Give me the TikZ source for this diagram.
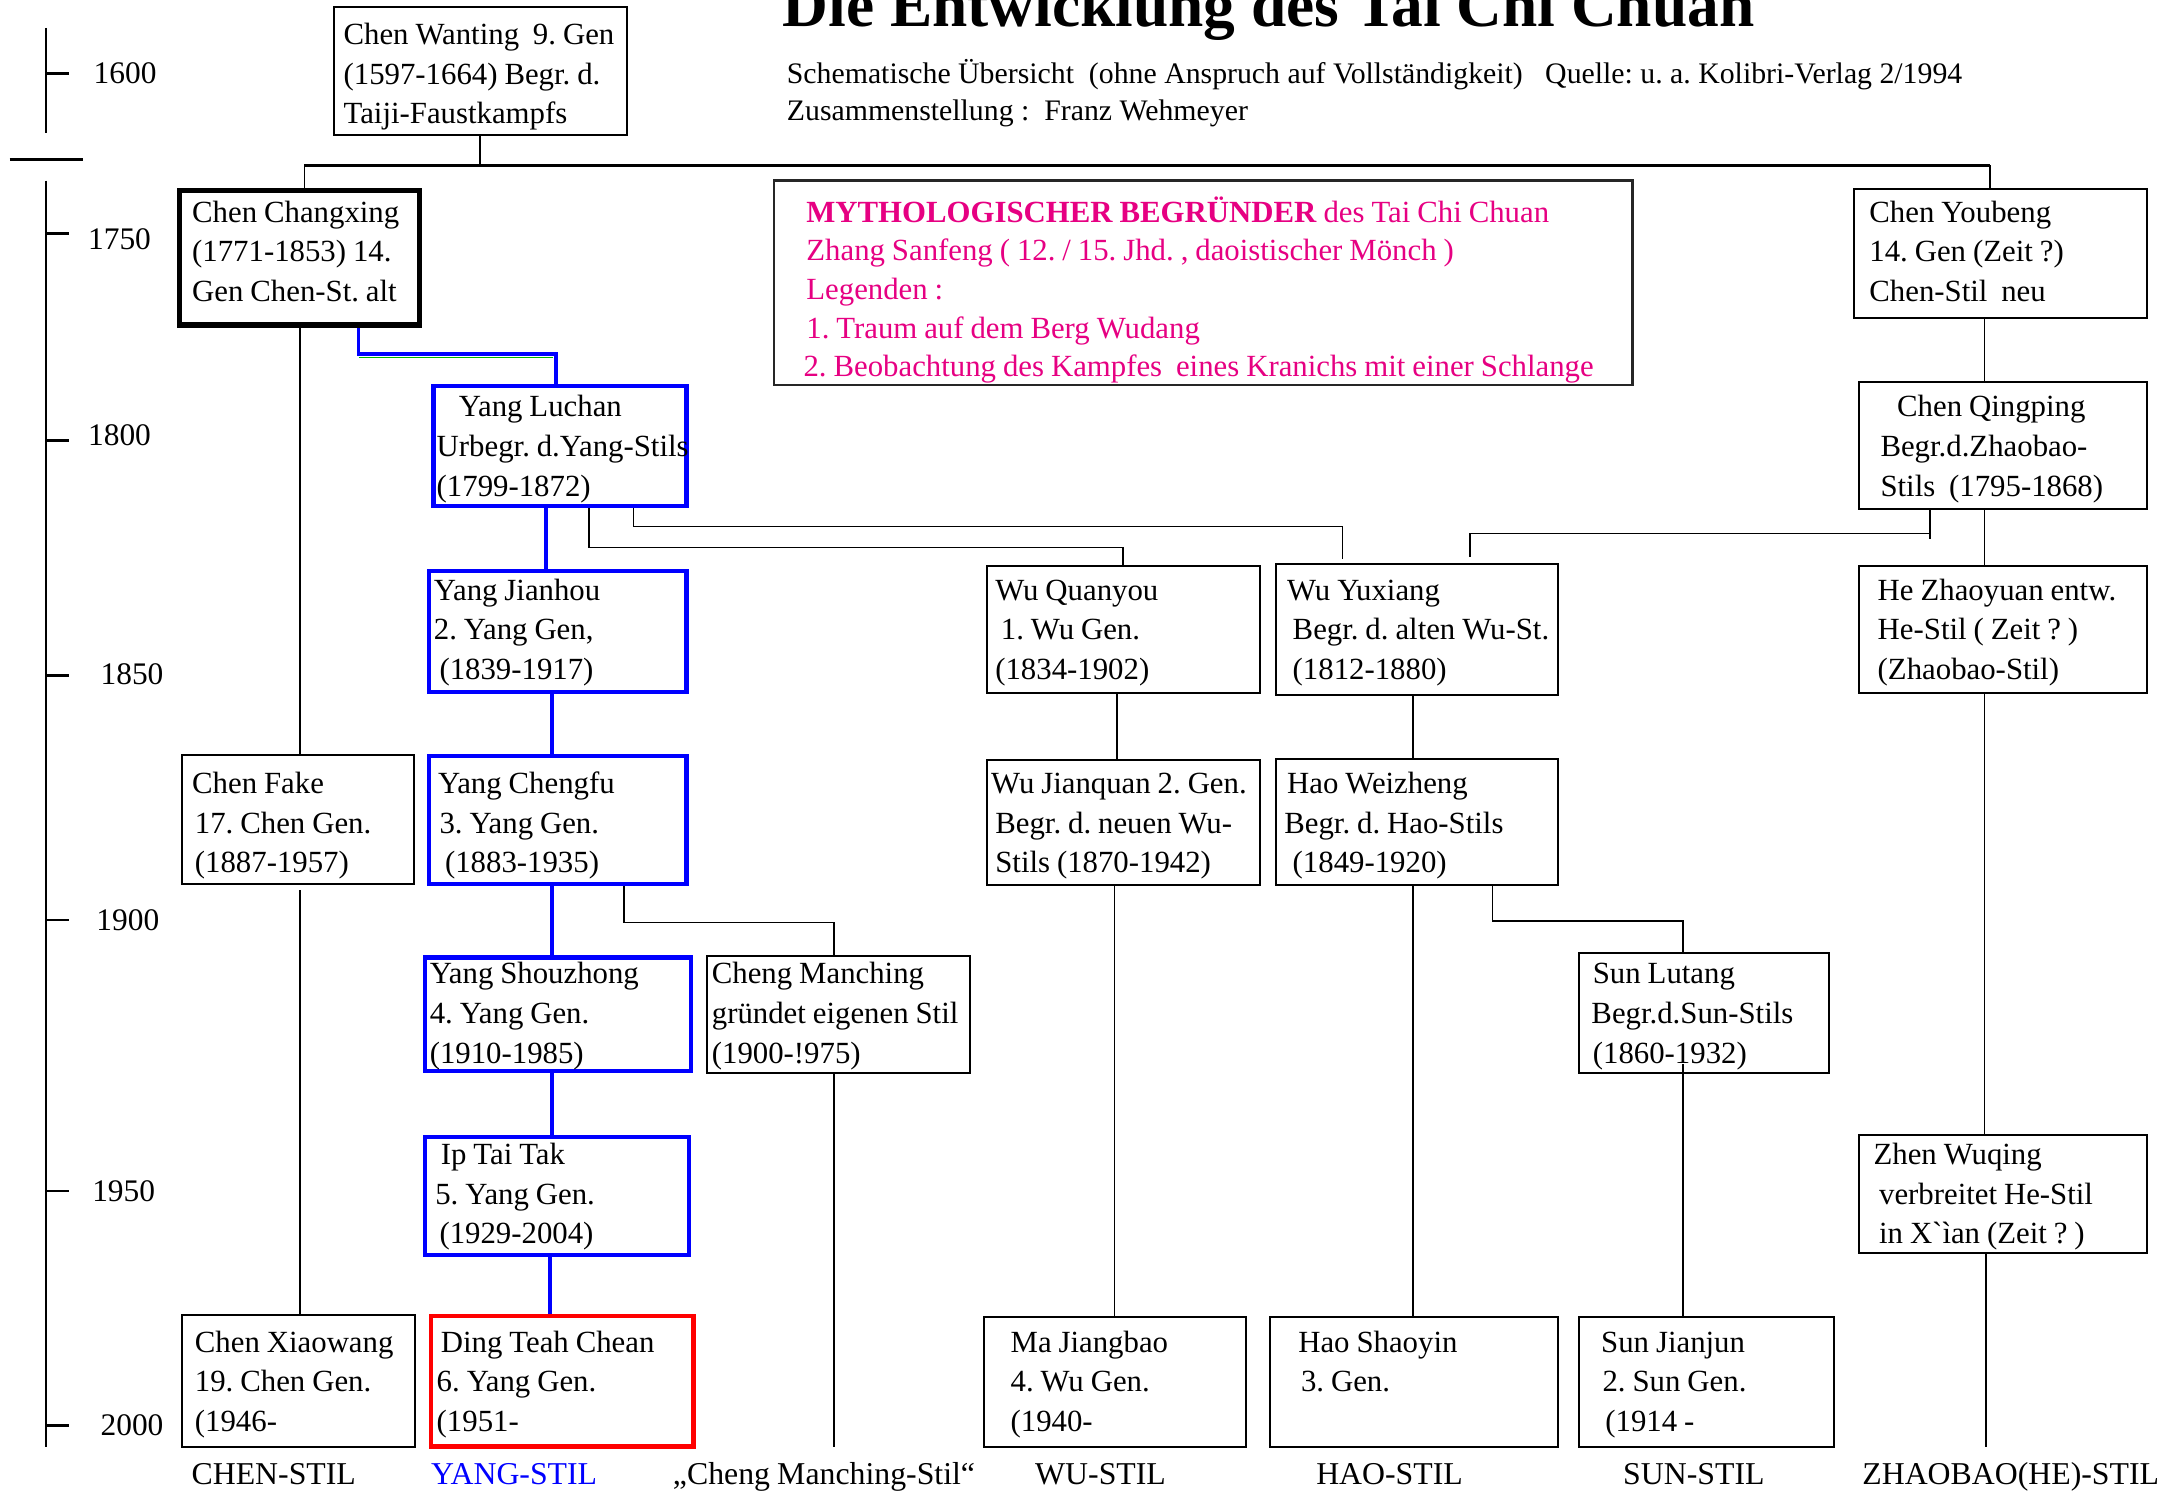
\documentclass[tikz,border=0pt]{standalone}
\usepackage{fontspec}
\setmainfont[WordSpace=0.9]{Liberation Serif}
\newfontfamily\headfont{Liberation Serif}
\frenchspacing
\usetikzlibrary{fit}
\newlength\ux \setlength\ux{0.69485pt}
\definecolor{mythc}{RGB}{230,0,130}
\newcommand\ls[1]{\begin{tabular}[t]{@{}l@{}}#1\end{tabular}}
\newcommand\ind[1]{\hspace*{#1\ux}}
\newcommand\gravemark{{\addfontfeatures{Ligatures=TeXOff}\symbol{"60}}}
\newcommand\pbox[9]{%
  \node[#2, fit={(#3,#4) (#5,#6)}] (#1) {};
  \node[txt] (#1t) at (#7,#8) {\ls{#9}};}
\tikzset{
  box/.style={draw=black, line width=1pt, inner sep=0pt},
  kbox/.style={draw=black, line width=2.7pt, inner sep=0pt},
  bbox/.style={draw=blue, line width=2.1pt, inner sep=0pt},
  rbox/.style={draw=red, line width=2.1pt, inner sep=0pt},
  txt/.style={inner sep=0pt, anchor=base west, font=\fontsize{15.4}{19.8}\selectfont},
  yr/.style={inner sep=0pt, anchor=center, font=\fontsize{15.7}{19}\selectfont},
  lab/.style={inner sep=0pt, anchor=base, font=\fontsize{15.9}{19}\selectfont},
  conn/.style={draw=black, line width=0.8pt},
  bconn/.style={draw=blue, line width=1.9pt},
  axis/.style={draw=black, line width=1.3pt},
}
\begin{document}
\begin{tikzpicture}[x=0.69485pt, y=-0.69485pt]
\useasboundingbox (0,0) rectangle (1560.2,1075.05);

% title
\node[inner sep=0pt, anchor=base west, font=\headfont\fontsize{31.7}{38}\selectfont\bfseries] (title) at (563,19) {Die Entwicklung des Tai Chi Chuan};
\node[inner sep=0pt, anchor=base west, font=\headfont\fontsize{14.9}{19}\selectfont] (sub1) at (566,60) {Schematische Übersicht\ \ (ohne Anspruch auf Vollständigkeit)\ \ \ Quelle: u. a. Kolibri-Verlag 2/1994};
\node[inner sep=0pt, anchor=base west, font=\headfont\fontsize{14.9}{19}\selectfont] (sub2) at (566,87) {Zusammenstellung :\ \ Franz Wehmeyer};

% timeline
\draw[axis] (33,20) -- (33,96);
\draw[axis] (33,53) -- (50,53);
\draw[axis] (7,115) -- (60,115);
\draw[axis] (33,130) -- (33,1041);
\foreach \yy in {168,317,486,662,857,1026} \draw[axis] (33,\yy) -- (50,\yy);
\node[yr] (y1600) at (90,53) {1600};
\node[yr] (y1750) at (86,172) {1750};
\node[yr] (y1800) at (86,313) {1800};
\node[yr] (y1850) at (95,485) {1850};
\node[yr] (y1900) at (92,662) {1900};
\node[yr] (y1950) at (89,857) {1950};
\node[yr] (y2000) at (95,1026) {2000};

% boxes
\pbox{cw}{box}{240}{5}{451}{97}{247}{32}{Chen Wanting\ \ 9. Gen\\(1597-1664) Begr. d.\\Taiji-Faustkampfs}
\pbox{cc}{kbox}{129}{137}{302}{234}{138}{160}{Chen Changxing\\(1771-1853) 14.\\Gen Chen-St. alt}
\node[box, draw=black!85, line width=1.3pt, fit={(557,130) (1175,277)}] (myth) {};
\node[txt, text=mythc, font=\fontsize{15.4}{19.3}\selectfont] (mytht) at (580,160) {\ls{\textbf{MYTHOLOGISCHER BEGRÜNDER} des Tai Chi Chuan\\Zhang Sanfeng ( 12. / 15. Jhd. , daoistischer Mönch )\\Legenden :\\1. Traum auf dem Berg Wudang\\\ind{-2}2. Beobachtung des Kampfes\ \ eines Kranichs mit einer Schlange}};
\pbox{cy}{box}{1334}{136}{1545}{229}{1345}{160}{Chen Youbeng\\14. Gen (Zeit ?)\\Chen-Stil\ \ neu}
\pbox{cq}{box}{1338}{275}{1545}{366}{1353}{300}{\ind{12}Chen Qingping\\Begr.d.Zhaobao-\\Stils\ \ (1795-1868)}
\pbox{yl}{bbox}{312}{278}{494}{364}{314}{300}{\ind{16}Yang Luchan\\Urbegr. d.Yang-Stils\\(1799-1872)}
\pbox{yj}{bbox}{309}{411}{494}{498}{312}{432}{Yang Jianhou\\2. Yang Gen,\\\ind{4}(1839-1917)}
\pbox{wq}{box}{710}{407}{907}{499}{716}{432}{Wu Quanyou\\\ind{4}1. Wu Gen.\\(1834-1902)}
\pbox{wy}{box}{918}{406}{1121}{500}{926}{432}{Wu Yuxiang\\\ind{4}Begr. d. alten Wu-St.\\\ind{4}(1812-1880)}
\pbox{hz}{box}{1338}{407}{1545}{499}{1351}{432}{He Zhaoyuan entw.\\He-Stil ( Zeit ? )\\(Zhaobao-Stil)}
\pbox{cf}{box}{131}{543}{298}{636}{138}{571}{Chen Fake\\\ind{2}17. Chen Gen.\\\ind{2}(1887-1957)}
\pbox{yc}{bbox}{309}{544}{494}{636}{315}{571}{Yang Chengfu\\\ind{1}3. Yang Gen.\\\ind{5}(1883-1935)}
\pbox{wj}{box}{710}{547}{907}{637}{713}{571}{Wu Jianquan 2. Gen.\\\ind{3}Begr. d. neuen Wu-\\\ind{3}Stils (1870-1942)}
\pbox{hw}{box}{918}{546}{1121}{637}{924}{571}{\ind{2}Hao Weizheng\\Begr. d. Hao-Stils\\\ind{6}(1849-1920)}
\pbox{ys}{bbox}{306}{689}{497}{771}{309}{708}{Yang Shouzhong\\4. Yang Gen.\\(1910-1985)}
\pbox{cm}{box}{509}{688}{698}{772}{512}{708}{Cheng Manching\\gründet eigenen Stil\\(1900-!975)}
\pbox{sl}{box}{1136}{686}{1316}{772}{1145}{708}{\ind{1}Sun Lutang\\Begr.d.Sun-Stils\\\ind{1}(1860-1932)}
\pbox{ip}{bbox}{306}{818}{496}{903}{313}{838}{\ind{4}Ip Tai Tak\\5. Yang Gen.\\\ind{3}(1929-2004)}
\pbox{zw}{box}{1338}{817}{1545}{902}{1348}{838}{Zhen Wuqing\\\ind{4}verbreitet He-Stil\\\ind{4}in X\gravemark ìan (Zeit ? )}
\pbox{cx}{box}{131}{946}{299}{1041}{140}{973}{Chen Xiaowang\\19. Chen Gen.\\(1946-}
\pbox{dt}{rbox}{310}{947}{499}{1041}{314}{973}{\ind{3}Ding Teah Chean\\6. Yang Gen.\\(1951-}
\pbox{mj}{box}{708}{948}{897}{1041}{727}{973}{Ma Jiangbao\\4. Wu Gen.\\(1940-}
\pbox{hs}{box}{914}{948}{1121}{1041}{934}{973}{Hao Shaoyin\\\ind{2}3. Gen.}
\pbox{sj}{box}{1136}{948}{1320}{1041}{1152}{973}{Sun Jianjun\\\ind{1}2. Sun Gen.\\\ind{3}(1914 -}

% connectors
\coordinate (bar) at (0,119);
\draw[conn] (cw.south) -- (cw.south |- bar);
\draw[conn, line width=1.4pt] (219,119) -- (1432,119);
\draw[conn] (219,119) -- (cc.north -| 219,0);
\draw[conn] (1432,119) -- (cy.north -| 1432,0);
% Chen Changxing -> Yang Luchan (blue)
\draw[green!70!black, line width=0.5pt] (258,257.3) -- (398,257.3);
\draw[bconn] (cc.south -| 258,0) -- (258,255) -- (400,255) -- (yl.north -| 400,0);
\draw[conn] (cc.south -| 216,0) -- (cf.north -| 216,0);
\draw[conn] (cf.south -| 216,0) ++(0,4) -- (cx.north -| 216,0);
% Yang line
\draw[bconn] (yl.south -| 393,0) -- (yj.north -| 393,0);
\draw[bconn] (yj.south -| 397,0) -- (yc.north -| 397,0);
\draw[bconn] (yc.south -| 397,0) -- (ys.north -| 397,0);
\draw[bconn] (ys.south -| 397,0) -- (ip.north -| 397,0);
\draw[bconn] (ip.south -| 396,0) -- (dt.north -| 396,0);
% Yang Luchan -> Wu
\draw[conn] (yl.south -| 424,0) |- (808,394) -- (wq.north -| 808,0);
\draw[conn] (yl.south -| 456,0) |- (966,379) -- (966,402);
% Chen Qingping -> Wu Yuxiang
\draw[conn] (cq.south -| 1389,0) -- (1389,388);
\draw[conn] (1389,384) -- (1058,384) -- (1058,401);
% Zhaobao line
\draw[conn] (cy.south -| 1428,0) -- (cq.north -| 1428,0);
\draw[conn] (cq.south -| 1428,0) -- (hz.north -| 1428,0);
\draw[conn] (hz.south -| 1428,0) -- (zw.north -| 1428,0);
\coordinate (zend) at (1429,1041);
\draw[conn] (zw.south -| 1429,0) -- (zend);
% Yang Chengfu -> Cheng Manching
\draw[conn] (yc.south -| 449,0) |- (600,664) -- (cm.north -| 600,0);
\coordinate (cmend) at (600,1041);
\draw[conn] (cm.south -| 600,0) -- (cmend);
% Wu line
\draw[conn] (wq.south -| 804,0) -- (wj.north -| 804,0);
\draw[conn] (wj.south -| 802,0) -- (mj.north -| 802,0);
% Hao line
\draw[conn] (wy.south -| 1017,0) -- (hw.north -| 1017,0);
\draw[conn] (hw.south -| 1017,0) -- (hs.north -| 1017,0);
\draw[conn] (hw.south -| 1074,0) |- (1211,663) -- (sl.north -| 1211,0);
\draw[conn] (1211,766) -- (sj.north -| 1211,0);

% style labels
\node[lab] (l1) at (197,1068) {CHEN-STIL};
\node[lab, text=blue] (l2) at (370,1068) {YANG-STIL};
\node[lab] (l3) at (593,1068) {„Cheng Manching-Stil“};
\node[lab] (l4) at (792,1068) {WU-STIL};
\node[lab] (l5) at (1000,1068) {HAO-STIL};
\node[lab] (l6) at (1219,1068) {SUN-STIL};
\node[lab] (l7) at (1447,1068) {ZHAOBAO(HE)-STIL};
\end{tikzpicture}
\end{document}
